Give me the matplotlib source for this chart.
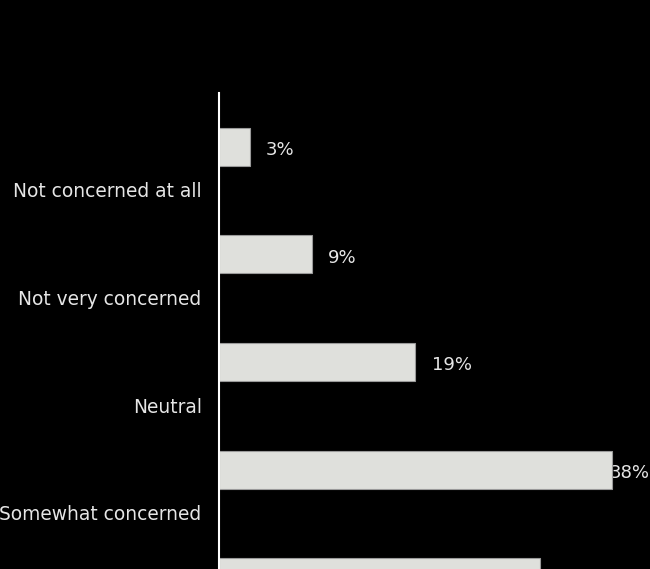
import matplotlib.pyplot as plt

categories = ['Not concerned at all', 'Not very concerned', 'Neutral',
              'Somewhat concerned', 'Very concerned']
values = [3, 9, 19, 38, 31]

plt.rcParams['font.family'] = ['DejaVu Sans']

fig = plt.figure(figsize=(6.5, 5.69), dpi=100, facecolor='black')
ax = fig.add_axes([219 / 650, -0.109, 1 - 219 / 650, 0.9456])
ax.set_facecolor('black')

y = list(range(len(categories)))
bars = ax.barh(y, values, height=0.353, color='#dfe0dc', edgecolor='#9a9a9a',
               linewidth=0.8, zorder=3)

xmax = 41.68
ax.set_xlim(0, xmax)
ax.set_ylim(len(categories) - 0.5, -0.5)

# category labels sit a bit below each bar
ax.set_yticks([i + 0.4 for i in y])
ax.set_yticklabels(categories, color='#e6e6e6', fontsize=13.4)
ax.tick_params(axis='y', length=0, pad=12.5)
ax.set_xticks([])

for s in ['top', 'right', 'bottom']:
    ax.spines[s].set_visible(False)
ax.spines['left'].set_color('white')
ax.spines['left'].set_linewidth(1.5)
ax.spines['left'].set_zorder(4)

# value labels, the widest one pushed back inside the figure
for bar, v in zip(bars, values):
    yc = bar.get_y() + bar.get_height() / 2 + 0.03
    x = v + 1.55
    if x + 3.9 > xmax:
        ax.text(xmax, yc, f'{v}%', ha='right', va='center', color='#e6e6e6',
                fontsize=13, zorder=2)
    else:
        ax.text(x, yc, f'{v}%', ha='left', va='center', color='#e6e6e6',
                fontsize=13, zorder=2)

fig.savefig('out.png', facecolor='black')
